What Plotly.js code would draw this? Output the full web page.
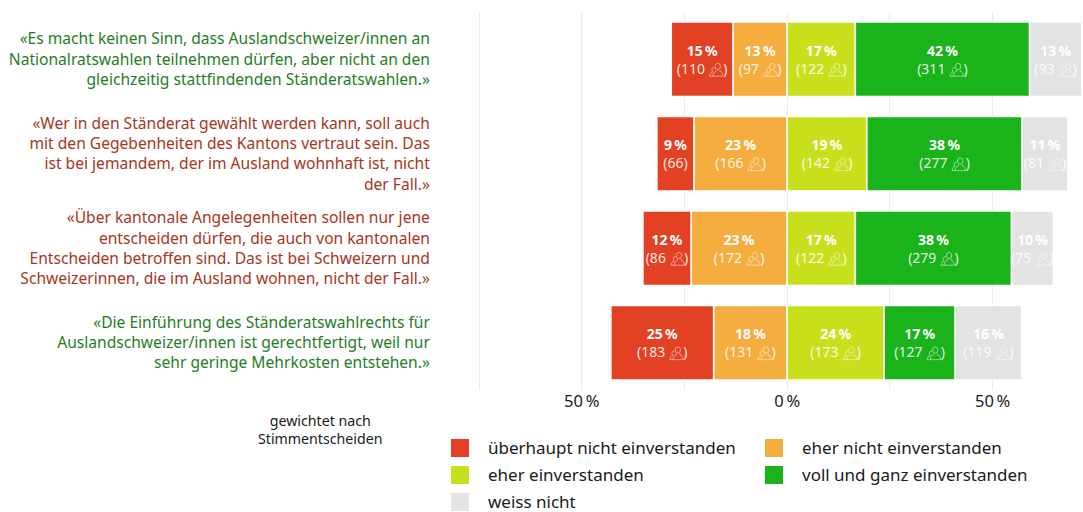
<!DOCTYPE html>
<html><head><meta charset="utf-8">
<script src="https://cdn.plot.ly/plotly-3.0.1.min.js"></script>
<style>html,body{margin:0;padding:0;background:#fff}#c{width:1083px;height:512px}</style>
</head><body><div id="c"></div>
<script>
const rows = [0, 1, 2, 3];
const questions = [
  "«Es macht keinen Sinn, dass Auslandschweizer/innen an<br>Nationalratswahlen teilnehmen dürfen, aber nicht an den<br>gleichzeitig stattfindenden Ständeratswahlen.»",
  "«Wer in den Ständerat gewählt werden kann, soll auch<br>mit den Gegebenheiten des Kantons vertraut sein. Das<br>ist bei jemandem, der im Ausland wohnhaft ist, nicht<br>der Fall.»",
  "«Über kantonale Angelegenheiten sollen nur jene<br>entscheiden dürfen, die auch von kantonalen<br>Entscheiden betroffen sind. Das ist bei Schweizern und<br>Schweizerinnen, die im Ausland wohnen, nicht der Fall.»",
  "«Die Einführung des Ständeratswahlrechts für<br>Auslandschweizer/innen ist gerechtfertigt, weil nur<br>sehr geringe Mehrkosten entstehen.»"
];
const questionColors = ["#1f7d1f", "#a83422", "#a83422", "#1f7d1f"];

const stronglyDisagree = [15.0, 9.0, 11.7, 25.0];
const ratherDisagree   = [13.2, 22.7, 23.4, 17.9];
const ratherAgree      = [16.6, 19.4, 16.6, 23.6];
const stronglyAgree    = [42.4, 37.8, 38.0, 17.3];
const dontKnow         = [12.7, 11.1, 10.2, 16.2];

const nStronglyDisagree = [110, 66, 86, 183];
const nRatherDisagree   = [97, 166, 172, 131];
const nRatherAgree      = [122, 142, 122, 173];
const nStronglyAgree    = [311, 277, 279, 127];
const nDontKnow         = [93, 81, 75, 119];

const pctStronglyDisagree = [15, 9, 12, 25];
const pctRatherDisagree   = [13, 23, 23, 18];
const pctRatherAgree      = [17, 19, 17, 24];
const pctStronglyAgree    = [42, 38, 38, 17];
const pctDontKnow         = [13, 11, 10, 16];

const tickValues = [-75, -50, -25, 0, 25, 50];
const tickLabels = ["", "50\u2009%", "", "0\u2009%", "", "50\u2009%"];

const legendNames = ["überhaupt nicht einverstanden", "eher nicht einverstanden", "eher einverstanden", "voll und ganz einverstanden", "weiss nicht"];
const colors = ["#e24124", "#f6ad3f", "#c8e01c", "#1ab31a", "#e3e3e3"];

const FONT = '"Noto Sans", "Open Sans", sans-serif';
const L = 476, W = 607, T = 12, H = 378;

function labels(pct, n, noIcon) {
  return pct.map((p, i) => {
    const tail = noIcon && noIcon[i] ? ")" : "\u00a0\u00a0\u00a0\u00a0\u00a0)";
    return "<b>" + p + "\u2009%</b><br><span style=\"color:rgba(255,255,255,0.88)\">(" + n[i] + tail + "</span>";
  });
}
function bar(name, color, vals, sign, pct, n, noIcon) {
  return {
    type: "bar", orientation: "h", name: name, y: rows,
    x: vals.map(v => sign * v),
    width: 0.79,
    marker: {color: color, line: {color: "#ffffff", width: 1.5}},
    text: labels(pct, n, noIcon),
    textposition: "inside", insidetextanchor: "middle", textangle: 0,
    constraintext: "none", cliponaxis: false,
    textfont: {family: FONT, size: 14, color: "#ffffff"},
    hoverinfo: "name+x", showlegend: false
  };
}
const traces = [
  bar(legendNames[1], colors[1], ratherDisagree, -1, pctRatherDisagree, nRatherDisagree),
  bar(legendNames[0], colors[0], stronglyDisagree, -1, pctStronglyDisagree, nStronglyDisagree, [false, true, false, false]),
  bar(legendNames[2], colors[2], ratherAgree, 1, pctRatherAgree, nRatherAgree),
  bar(legendNames[3], colors[3], stronglyAgree, 1, pctStronglyAgree, nStronglyAgree),
  bar(legendNames[4], colors[4], dontKnow, 1, pctDontKnow, nDontKnow)
];

const iconSvg = '<svg xmlns="http://www.w3.org/2000/svg" viewBox="0 0 28 28"><g fill="none" stroke="#ffffff" stroke-opacity="0.6" stroke-width="1.6"><ellipse cx="17" cy="8" rx="5" ry="6"/><path d="M14 15v2c-3 1-6 3-6 9h19c0-6-3-8-6-9v-2"/><path d="M11 10a4 4 0 0 0-5 4c0 2 1 3 2 4c-4 1-6 4-6 8h6"/></g></svg>';
const iconSrc = "data:image/svg+xml;utf8," + encodeURIComponent(iconSvg);

const images = [];
const PXX = 4.11, PXY = 94.4;
function addIcons(vals, sign, n, start, noIcon) {
  rows.forEach(i => {
    if (noIcon && noIcon[i]) return;
    const centre = start[i] + sign * vals[i] / 2;
    const off = (String(n[i]).length === 3 ? 14 : 10.5) / PXX;
    images.push({source: iconSrc, xref: "x", yref: "y", x: centre + off, y: rows[i] + 10.5 / PXY,
      sizex: 15 / PXX, sizey: 15 / PXY, sizing: "stretch", xanchor: "center", yanchor: "middle", layer: "above"});
  });
}
addIcons(ratherDisagree, -1, nRatherDisagree, [0, 0, 0, 0]);
addIcons(stronglyDisagree, -1, nStronglyDisagree, ratherDisagree.map(v => -v), [false, true, false, false]);
addIcons(ratherAgree, 1, nRatherAgree, [0, 0, 0, 0]);
addIcons(stronglyAgree, 1, nStronglyAgree, ratherAgree);
addIcons(dontKnow, 1, nDontKnow, ratherAgree.map((v, i) => v + stronglyAgree[i]));

const shapes = [], annotations = [];
const legendX = [451, 765, 451, 765, 451];
const legendY = [448, 448, 475, 475, 502];
legendNames.forEach((nm, i) => {
  shapes.push({type: "rect", xref: "paper", yref: "paper", layer: "above",
    x0: (legendX[i] - L) / W, x1: (legendX[i] + 18 - L) / W,
    y0: (T + H - legendY[i] + 9) / H, y1: (T + H - legendY[i] - 9) / H,
    fillcolor: colors[i], line: {width: 0}});
  annotations.push({xref: "paper", yref: "paper", x: (legendX[i] + 36 - L) / W, y: (T + H - legendY[i] + 1) / H,
    xanchor: "left", yanchor: "middle", showarrow: false, text: nm, height: 22, borderpad: 0,
    font: {family: FONT, size: 17, color: "#1a1a1a"}});
});
annotations.push({xref: "paper", yref: "paper", x: (320.5 - L) / W, y: (T + H - 429) / H,
  xanchor: "center", yanchor: "middle", align: "center", showarrow: false,
  text: "gewichtet nach<br>Stimmentscheiden", font: {family: FONT, size: 14.2, color: "#1a1a1a"}});

const layout = {
  width: 1083, height: 512,
  margin: {l: L, r: 0, t: T, b: 512 - T - H, pad: 0},
  paper_bgcolor: "#ffffff", plot_bgcolor: "#ffffff",
  barmode: "relative", bargap: 0.21,
  font: {family: FONT, color: "#1a1a1a"},
  xaxis: {range: [-75.73, 72], tickmode: "array", tickvals: tickValues, ticktext: tickLabels,
    showgrid: true, gridcolor: "#ebebeb", gridwidth: 1.3, zeroline: true, zerolinecolor: "#ebebeb", zerolinewidth: 1.3,
    showline: false, ticks: "", ticklabelstandoff: -1,
    tickfont: {family: FONT, size: 16.5, color: "#1a1a1a"}, fixedrange: true},
  yaxis: {range: [3.5, -0.5], tickmode: "array", tickvals: rows,
    ticktext: questions.map((q, i) => '<span style="color:' + questionColors[i] + '">' + q + "</span>"),
    showgrid: false, zeroline: false, showline: false, ticks: "outside", ticklen: 42, tickcolor: "rgba(0,0,0,0)",
    tickfont: {family: FONT, size: 15.6, color: "#1f7d1f"}, fixedrange: true},
  shapes: shapes, annotations: annotations, images: images
};
Plotly.newPlot("c", traces, layout, {displayModeBar: false, responsive: false});
</script></body></html>
